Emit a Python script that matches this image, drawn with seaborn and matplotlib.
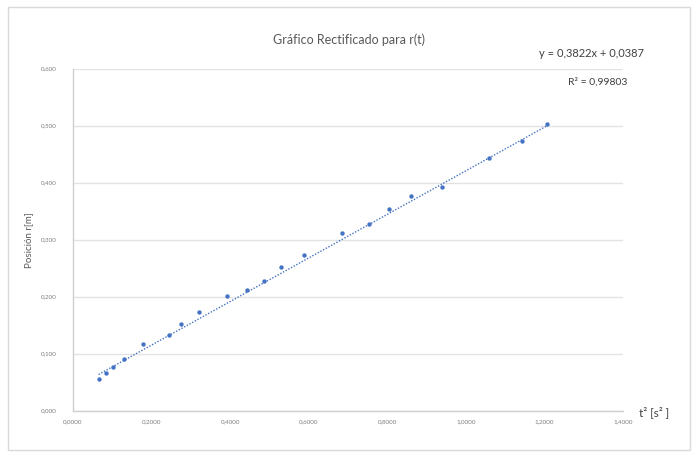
import seaborn as sns
import pandas as pd
import matplotlib.pyplot as plt
from matplotlib.ticker import FuncFormatter, MultipleLocator
from matplotlib.patches import Rectangle

# t^2 [s^2] and r [m]
t2 = [0.065, 0.084, 0.101, 0.131, 0.179, 0.244, 0.274, 0.321, 0.392, 0.443, 0.486,
      0.529, 0.588, 0.684, 0.753, 0.805, 0.861, 0.938, 1.058, 1.142, 1.207]
r = [0.056, 0.067, 0.076, 0.091, 0.117, 0.132, 0.152, 0.173, 0.202, 0.212, 0.227,
     0.252, 0.273, 0.311, 0.327, 0.353, 0.377, 0.393, 0.443, 0.474, 0.503]
slope = 0.3822
intercept = 0.0387
r2 = 0.99803

blue = "#4472C4"

df = pd.DataFrame({"t2": t2, "r": r})
fit = pd.DataFrame({"t2": [min(t2), max(t2)]})
fit["r"] = slope * fit["t2"] + intercept

sns.set_theme(style="white")
plt.rcParams['font.family'] = ['Lato', 'DejaVu Sans']

fig = plt.figure(figsize=(6.98, 4.57), dpi=100)
ax = fig.add_axes([0.1046, 0.1013, 0.788, 0.7484])

sns.lineplot(data=fit, x="t2", y="r", ax=ax, color=blue, linestyle=(0, (1, 1.2)),
             linewidth=1.0)
sns.scatterplot(data=df, x="t2", y="r", ax=ax, color=blue, s=10, linewidth=0, zorder=3)

ax.set_xlim(0, 1.4)
ax.set_ylim(0, 0.6)
ax.xaxis.set_major_locator(MultipleLocator(0.2))
ax.yaxis.set_major_locator(MultipleLocator(0.1))
ax.xaxis.set_major_formatter(FuncFormatter(lambda v, p: f"{v:.4f}".replace(".", ",")))
ax.yaxis.set_major_formatter(FuncFormatter(lambda v, p: f"{v:.3f}".replace(".", ",")))
ax.tick_params(labelsize=4.5, colors="#7f7f7f", length=0)
ax.tick_params(axis="x", pad=6)
ax.tick_params(axis="y", pad=12)
ax.yaxis.grid(True, color="#e3e3e3", linewidth=1)
ax.xaxis.grid(False)
for s in ["top", "right"]:
    ax.spines[s].set_visible(False)
for s in ["left", "bottom"]:
    ax.spines[s].set_color("#d0d0d0")
    ax.spines[s].set_linewidth(1)

ax.set_xlabel("")
ax.set_ylabel("Posición r[m]", fontsize=7, color="#595959", labelpad=5)
fig.text(0.915, 0.098, "t² [s² ]", fontsize=8.5, color="#404040", ha="left", va="center")
fig.text(0.5, 0.912, "Gráfico Rectificado para r(t)", fontsize=9, color="#595959",
         ha="center", va="center")
fig.text(0.848, 0.884, f"y = {slope:.4f}x + {intercept:.4f}".replace(".", ","),
         fontsize=8, color="#404040", ha="center", va="center")
fig.text(0.857, 0.82, f"R² = {r2:.5f}".replace(".", ","),
         fontsize=7.5, color="#404040", ha="center", va="center")

fig.patches.append(Rectangle((0.012, 0.016), 0.976, 0.968, transform=fig.transFigure,
                             fill=False, edgecolor="#d9d9d9", linewidth=1))

fig.savefig("out.png", dpi=100)
